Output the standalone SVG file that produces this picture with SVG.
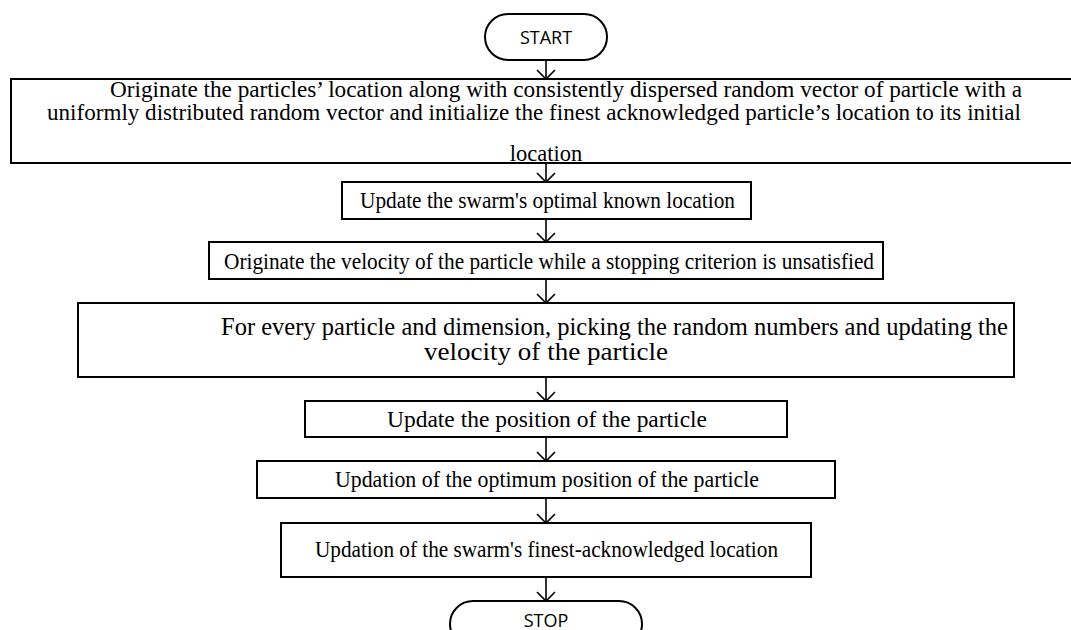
<svg xmlns="http://www.w3.org/2000/svg" width="1071" height="630" viewBox="0 0 1071 630">
<defs>
<style>
.box{fill:#fff;stroke:#000;stroke-width:2}
.term{fill:#fff;stroke:#000;stroke-width:2}
.pal{font-family:"Liberation Serif","DejaVu Serif",serif;font-size:22.5px;fill:#000}
.tnr{font-family:"Liberation Serif","DejaVu Serif",serif;font-size:24px;fill:#000}
.sans{font-family:"Open Sans","Liberation Sans",sans-serif;font-size:18px;fill:#000}
.conn line{stroke:#000;stroke-width:1.6}
.conn path{fill:none;stroke:#000;stroke-width:1.6}
</style>
</defs>
<rect width="1071" height="630" fill="#fff"/>
<g id="start">
<rect class="term" x="485" y="14" width="122" height="46" rx="23" ry="23"/>
<text class="sans" x="546" y="44" text-anchor="middle">START</text>
</g>
<g id="box1">
<rect class="box" x="11" y="79" width="1075" height="84"/>
<text class="pal" x="110" y="97" textLength="912" lengthAdjust="spacingAndGlyphs">Originate the particles’ location along with consistently dispersed random vector of particle with a</text>
<text class="pal" x="47" y="120" textLength="974" lengthAdjust="spacingAndGlyphs">uniformly distributed random vector and initialize the finest acknowledged particle’s location to its initial</text>
<text class="pal" x="546" y="161" text-anchor="middle">location</text>
</g>
<g id="box2">
<rect class="box" x="342" y="182" width="409" height="37"/>
<text class="tnr" x="360" y="208" textLength="375" lengthAdjust="spacingAndGlyphs">Update the swarm's optimal known location</text>
</g>
<g id="box3">
<rect class="box" x="209" y="242" width="674" height="37"/>
<text class="tnr" x="224" y="269" textLength="650" lengthAdjust="spacingAndGlyphs">Originate the velocity of the particle while a stopping criterion is unsatisfied</text>
</g>
<g id="box4">
<rect class="box" x="78" y="303" width="936" height="74"/>
<text class="tnr" x="221" y="335" textLength="787" lengthAdjust="spacingAndGlyphs" style="font-size:25px">For every particle and dimension,  picking the random numbers and updating the</text>
<text class="tnr" x="424" y="360" textLength="244" lengthAdjust="spacingAndGlyphs" style="font-size:25px">velocity of the particle</text>
</g>
<g id="box5">
<rect class="box" x="305" y="401" width="482" height="36"/>
<text class="pal" x="387" y="427" textLength="320" lengthAdjust="spacingAndGlyphs">Update the position of the particle</text>
</g>
<g id="box6">
<rect class="box" x="257" y="461" width="578" height="37"/>
<text class="tnr" x="335" y="487" textLength="424" lengthAdjust="spacingAndGlyphs">Updation of  the optimum  position of the particle</text>
</g>
<g id="box7">
<rect class="box" x="281" y="523" width="530" height="54"/>
<text class="tnr" x="315" y="557" textLength="463" lengthAdjust="spacingAndGlyphs">Updation of the swarm's finest-acknowledged location</text>
</g>
<g id="stop">
<rect class="term" x="450" y="601" width="192" height="46" rx="23" ry="23"/>
<text class="sans" x="546" y="627" text-anchor="middle">STOP</text>
</g>
<g id="connectors" class="conn">
<line x1="546" y1="60" x2="546" y2="79"/><path d="M537 70 L546 79 L555 70"/>
<line x1="546" y1="163" x2="546" y2="182"/><path d="M537 173 L546 182 L555 173"/>
<line x1="546" y1="219" x2="546" y2="242"/><path d="M537 233 L546 242 L555 233"/>
<line x1="546" y1="279" x2="546" y2="303"/><path d="M537 294 L546 303 L555 294"/>
<line x1="546" y1="377" x2="546" y2="401"/><path d="M537 392 L546 401 L555 392"/>
<line x1="546" y1="437" x2="546" y2="461"/><path d="M537 452 L546 461 L555 452"/>
<line x1="546" y1="498" x2="546" y2="523"/><path d="M537 514 L546 523 L555 514"/>
<line x1="546" y1="577" x2="546" y2="601"/><path d="M537 592 L546 601 L555 592"/>
</g>
</svg>
